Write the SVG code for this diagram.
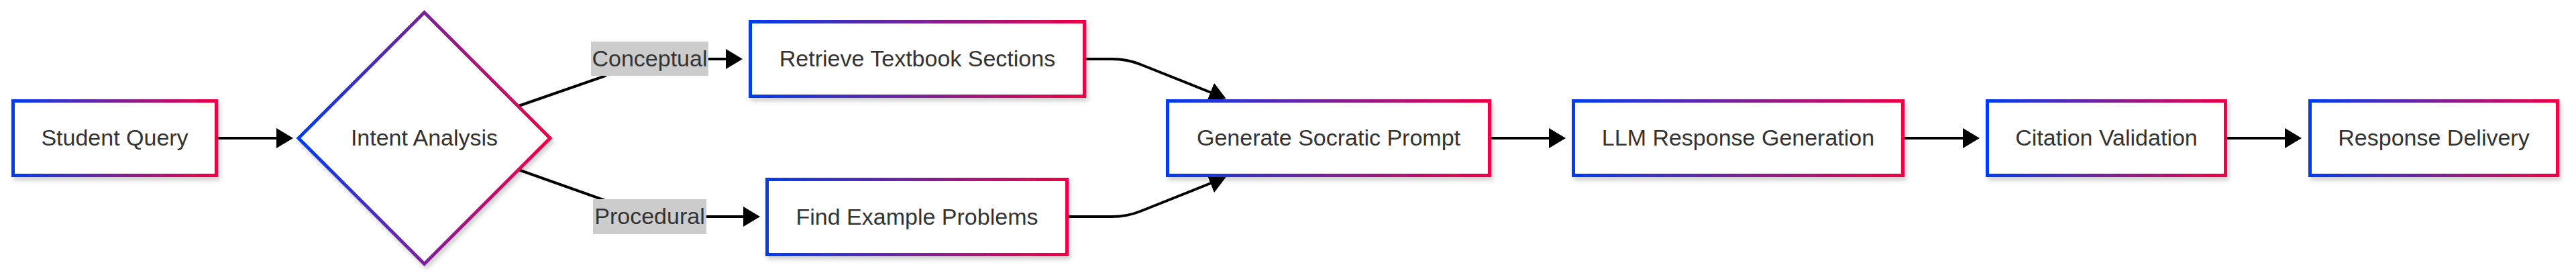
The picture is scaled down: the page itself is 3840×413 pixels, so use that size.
<svg xmlns="http://www.w3.org/2000/svg" width="3840" height="413" viewBox="0 0 3840 413">
<style>
.node{fill:#fff;stroke:url(#grad);stroke-width:5;filter:url(#sh)}
.lbl{font-family:"Liberation Sans",Arial,Helvetica,sans-serif;font-size:34px;fill:#333;text-anchor:middle}
.edge{fill:none;stroke:#000;stroke-width:4;marker-end:url(#arr)}
.ebg{fill:#cccccc}
</style>
<defs>
<linearGradient id="grad" x1="0" y1="0" x2="1" y2="0">
<stop offset="0" stop-color="#003cf0"/>
<stop offset="0.5" stop-color="#7a2298"/>
<stop offset="1" stop-color="#f00046"/>
</linearGradient>
<filter id="sh" x="-10%" y="-20%" width="120%" height="150%">
<feDropShadow dx="3" dy="5" stdDeviation="3" flood-color="#000" flood-opacity="0.18"/>
</filter>
<marker id="arr" viewBox="0 0 25 30" refX="5" refY="15" markerWidth="25" markerHeight="30" markerUnits="userSpaceOnUse" orient="auto">
<path d="M0,0 L25,15 L0,30 z" fill="#000"/>
</marker>
</defs>
<rect width="3840" height="413" fill="#fff"/>
<g id="connectors">
<path class="edge" d="M325,206 L417,206"/>
<path class="edge" d="M773,158 L900,114 Q940,88 990,88 L1087,88"/>
<path class="edge" d="M773,253 L900,298 Q940,323 990,323 L1113,323"/>
<path class="edge" d="M1619,88 L1658,88 Q1680,88 1700,96 L1809,139.5"/>
<path class="edge" d="M1593,323 L1658,323 Q1680,323 1700,315 L1809,271.5"/>
<path class="edge" d="M2223,206 L2314,206"/>
<path class="edge" d="M2839,206 L2931,206"/>
<path class="edge" d="M3320,206 L3411,206"/>
<rect class="ebg" x="881" y="62" width="175" height="51"/>
<text class="lbl" x="968.5" y="99">Conceptual</text>
<rect class="ebg" x="884" y="297" width="169" height="52"/>
<text class="lbl" x="968.5" y="334">Procedural</text>
</g>
<g id="student-query">
<rect class="node" x="19.5" y="150.5" width="303" height="111"/>
<text class="lbl" x="171" y="217">Student Query</text>
</g>
<g id="intent-analysis">
<polygon class="node" points="445,206 632.5,18.5 820,206 632.5,393.5"/>
<text class="lbl" x="632.5" y="217">Intent Analysis</text>
</g>
<g id="retrieve-textbook">
<rect class="node" x="1118.5" y="32.5" width="498" height="111"/>
<text class="lbl" x="1367.5" y="99">Retrieve Textbook Sections</text>
</g>
<g id="find-examples">
<rect class="node" x="1143.5" y="267.5" width="447" height="112"/>
<text class="lbl" x="1367" y="335">Find Example Problems</text>
</g>
<g id="generate-prompt">
<rect class="node" x="1740.5" y="150.5" width="480" height="111"/>
<text class="lbl" x="1980.5" y="217">Generate Socratic Prompt</text>
</g>
<g id="llm-response">
<rect class="node" x="2345.5" y="150.5" width="491" height="111"/>
<text class="lbl" x="2591" y="217">LLM Response Generation</text>
</g>
<g id="citation-validation">
<rect class="node" x="2962.5" y="150.5" width="355" height="111"/>
<text class="lbl" x="3140" y="217">Citation Validation</text>
</g>
<g id="response-delivery">
<rect class="node" x="3443.5" y="150.5" width="369" height="111"/>
<text class="lbl" x="3628" y="217">Response Delivery</text>
</g>
</svg>
